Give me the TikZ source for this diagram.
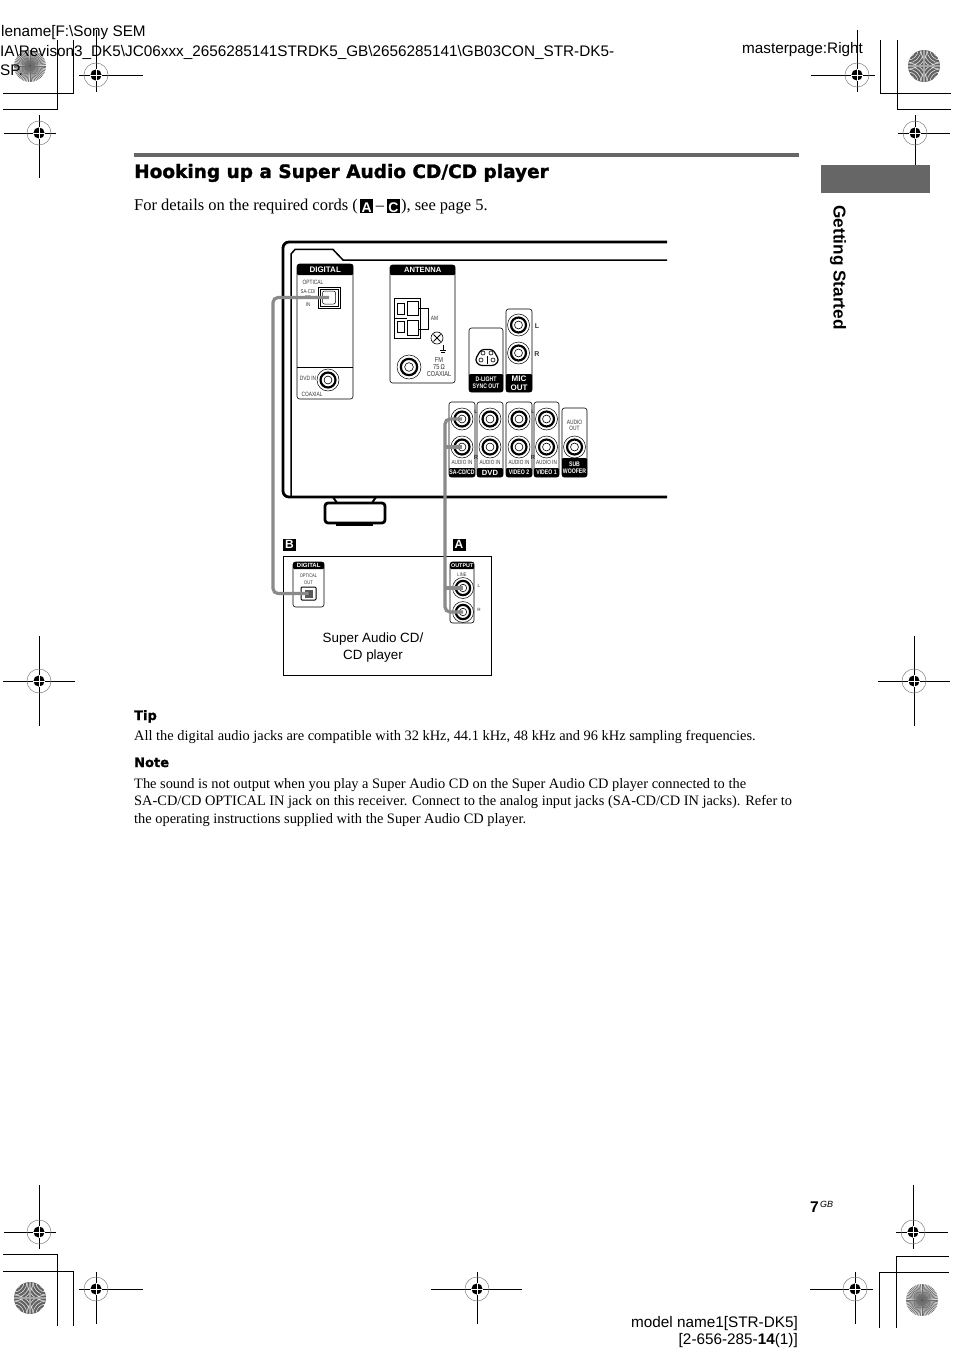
\documentclass[tikz,border=0pt]{standalone}
\usepackage{fontspec}
\setmainfont{Liberation Serif}
\newfontfamily\helvfont{Liberation Sans}
\newfontfamily\heavyfont[BoldFeatures={FakeBold=1.4}]{DejaVu Sans}
\newfontfamily\narrowfont[FakeStretch=0.78]{Liberation Sans}
\usetikzlibrary{positioning,arrows.meta,calc}
\definecolor{rulegray}{HTML}{666666}
\definecolor{cablegray}{HTML}{8A8A8A}
\newcommand{\fs}[1]{\fontsize{#1}{#1}\selectfont}
\newcommand{\cordtag}[1]{{\fboxsep=0pt\raisebox{-1.6pt}{\colorbox{black}{\makebox[13.5pt]{\rule{0pt}{13.5pt}\textcolor{white}{\helvfont\bfseries\fs{14}#1}}}}}}
\tikzset{
  cropline/.style={black, line width=0.9pt},
  regline/.style={black, line width=0.9pt},
  panelbox/.style={draw, rounded corners=2.5pt, line width=0.6pt, fill=white},
  barlabel/.style={fill=black, text=white, rounded corners=1.2pt, inner sep=0pt, align=center, font=\narrowfont\bfseries\fs{6.6}, text depth=0pt},
  smalltext/.style={inner sep=0pt, align=center, text=black!80, font=\narrowfont\fs{6.2}},
  pagetext/.style={anchor=base west, inner sep=0pt},
  headtext/.style={pagetext, font=\helvfont\fs{15.3}},
  bodytext/.style={pagetext, font=\fs{14.4}},
  kickertext/.style={pagetext, font=\heavyfont\bfseries\fs{13}},
  cable/.style={draw=cablegray, line width=3.2pt, rounded corners=5pt},
  jack/.style={circle, draw, line width=0.5pt, inner sep=0pt, fill=white, minimum size=#1,
    path picture={
      \draw[line width=2.2pt] (path picture bounding box.center) circle (0.34*#1);
      \draw[line width=0.6pt] (path picture bounding box.center) circle (0.18*#1);
    }},
  tagbox/.style={fill=black, text=white, inner sep=0pt, minimum width=13pt, minimum height=12pt, font=\helvfont\bfseries\fs{12}}
}
% registration mark: name, centre, arm lengths left/right/up/down
\newcommand{\regmark}[6]{
  \coordinate (#1) at (#2);
  \draw[regline] ($(#1)+(-#3,0)$) -- ($(#1)+(#4,0)$);
  \draw[regline] ($(#1)+(0,-#5)$) -- ($(#1)+(0,#6)$);
  \draw[gray, line width=0.5pt] (#1) circle (12pt);
  \fill[black] (#1) circle (5.6pt);
  \draw[white, line width=0.5pt] ($(#1)+(-5.6,0)$) -- ($(#1)+(5.6,0)$) ($(#1)+(0,-5.6)$) -- ($(#1)+(0,5.6)$);
}
% the two printer's discs
\newcommand{\spokedisc}[1]{
  \fill[gray!25] (#1) circle (16pt);
  \foreach \a in {0,6,...,354}
    \draw[gray!85!black, line width=0.6pt] (#1) -- ++(\a:16pt);
  \fill[black!70] (#1) circle (1pt);
}
\newcommand{\darkdisc}[1]{
  \begin{scope}
    \clip (#1) circle (16pt);
    \fill[black!62] (#1) circle (16pt);
    \foreach \qx/\qy in {-16/-16,16/-16,-16/16,16/16}
      \foreach \r in {7,10,13,16,19}
        \draw[gray!25, line width=0.6pt] ($(#1)+(\qx,\qy)$) circle (\r pt);
    \draw[gray!70, line width=2.5pt] ($(#1)+(-16,0)$) -- ($(#1)+(16,0)$) ($(#1)+(0,-16)$) -- ($(#1)+(0,16)$);
  \end{scope}
}
\begin{document}
\begin{tikzpicture}[x=1pt, y=-1pt, >=Latex]
  \path[fill=white, use as bounding box] (0,0) rectangle (954,1364);

  % printer's marks
  \spokedisc{30,66}
  \darkdisc{924,66}
  \darkdisc{30,1298}
  \spokedisc{922,1300}
  \draw[cropline] (57,40) -- (57,109) -- (3,109);
  \draw[cropline] (73,40) -- (73,93) -- (3,93);
  \draw[cropline] (880,40) -- (880,93) -- (951,93);
  \draw[cropline] (897,40) -- (897,109) -- (951,109);
  \draw[cropline] (57,1326) -- (57,1254) -- (3,1254);
  \draw[cropline] (73,1326) -- (73,1271) -- (3,1271);
  \draw[cropline] (879,1328) -- (879,1272) -- (949,1272);
  \draw[cropline] (896,1328) -- (896,1256) -- (949,1256);

  % header lines
  \node[headtext] (file1) at (1,37) {lename[F:\textbackslash Sony SEM};
  \node[headtext] (file2) at (0,57) {IA\textbackslash Revison3\_DK5\textbackslash JC06xxx\_2656285141STRDK5\_GB\textbackslash 2656285141\textbackslash GB03CON\_STR-DK5-};
  \node[headtext] (file3) at (0,76) {SP.};
  \node[headtext] (master) at (742,54) {masterpage:Right};

  \regmark{regA}{96,75}{17}{47}{45}{17}
  \regmark{regB}{39,133}{35}{17}{18}{45}
  \regmark{regC}{857,75}{46}{18}{45}{17}
  \regmark{regD}{915,133}{17}{35}{18}{45}
  \regmark{regE}{39,681}{36}{36}{45}{45}
  \regmark{regF}{914,681}{36}{36}{45}{45}
  \regmark{regG}{39,1232}{35}{17}{47}{17}
  \regmark{regH}{96,1289}{17}{47}{17}{35}
  \regmark{regI}{477,1289}{46}{45}{17}{35}
  \regmark{regJ}{855,1289}{45}{18}{17}{35}
  \regmark{regK}{913,1232}{17}{35}{47}{17}

  % page furniture
  \fill[rulegray] (134,153) rectangle (799,157);
  \fill[rulegray] (821,165) rectangle (930,193);
  \node[rotate=-90, inner sep=0pt, font=\helvfont\bfseries\fs{17.2}] (chapter) at (838,267.5) {Getting Started};
  \node[pagetext, font=\heavyfont\bfseries\fs{18.5}] (title) at (134,178) {Hooking up a Super Audio CD/CD player};
  \node[pagetext, font=\fs{16.5}] (intro) at (134,211) {For details on the required cords (\kern2pt\cordtag{A}\kern2.5pt--\kern2.5pt\cordtag{C}\kern1pt), see page 5.};

  % receiver outline
  \draw[line width=2.8pt, rounded corners=6pt] (667,242) -- (283,242) -- (283,497) -- (667,497);
  \draw[line width=1.5pt] (667,260) -- (343,260) -- (333,249.5) -- (295,249.5) -- (291,254) -- (291,497);
  \draw[line width=2.8pt, rounded corners=3pt] (325,503) rectangle (385,523);
  \draw[line width=2pt] (333,497) -- (337,503) (376,497) -- (372,503);
  \draw[line width=1.8pt] (336,525) -- (373,525);

  % digital panel
  \draw[panelbox] (297,264) rectangle (353,399);
  \draw[line width=0.6pt] (297,367) -- (353,367);
  \node[barlabel, anchor=north west, minimum width=56, minimum height=11, font=\helvfont\bfseries\fs{8}] (digitalbar) at (297,264) {DIGITAL};
  \node[smalltext] (opticallabel) at (313,282) {OPTICAL};
  \node[smalltext, font=\narrowfont\fs{5.6}] (sacdlabel) at (308,298) {SA-CD/\\[0.5pt]CD\\[1pt]IN};
  \node[draw, line width=0.7pt, minimum width=22, minimum height=21, inner sep=0pt] (opticalframe) at (329,297.5) {};
  \node[draw, line width=0.7pt, minimum width=18, minimum height=17, inner sep=0pt] (opticalin) at (329,297.5) {};
  \node[draw, line width=0.5pt, rounded corners=2pt, minimum width=13, minimum height=13, inner sep=0pt] (opticalcore) at (329,297.5) {};
  \node[smalltext] (dvdlabel) at (308,378) {DVD IN};
  \node[jack=22pt] (dvdjack) at (328,380) {};
  \node[smalltext] (coaxlabel) at (312,394) {COAXIAL};

  % antenna panel
  \draw[panelbox] (390,265) rectangle (455,383);
  \node[barlabel, anchor=north west, minimum width=65, minimum height=10, font=\helvfont\bfseries\fs{7.6}] (antennabar) at (390,265) {ANTENNA};
  \draw[line width=0.6pt] (394,298) rectangle (420,338);
  \draw[line width=0.6pt] (394,318) -- (407,318);
  \draw[line width=0.6pt] (397,303) rectangle (404,314) (397,321) rectangle (404,332);
  \draw[line width=0.9pt] (407,301) rectangle (418,315) (407,320) rectangle (418,335);
  \draw[line width=0.6pt] (418,308) -- (428.5,308) -- (428.5,329) -- (418,329);
  \node[smalltext] (amlabel) at (434.5,318) {AM};
  \node[draw, circle, line width=0.6pt, minimum size=12, inner sep=0pt] (screw) at (437,338) {};
  \draw[line width=1pt] (433.5,334.5) -- (440.5,341.5) (433.5,341.5) -- (440.5,334.5);
  \draw[line width=0.4pt] (443,345) -- (443,350) (440,350) -- (446,350) (441,352) -- (445,352);
  \node[jack=24pt] (fmjack) at (409,367) {};
  \node[smalltext, align=center, font=\narrowfont\fs{7.2}] (fmlabel) at (439,367) {FM\\[-0.5pt]75\,Ω\\[-0.5pt]COAXIAL};

  % d-light and mic panels
  \draw[panelbox] (469,328) rectangle (503,392);
  \draw[panelbox] (506,309) rectangle (532,392);
  \node[barlabel, minimum width=34, minimum height=18] (dlightbar) at (486,383) {D-LIGHT\\[0.6pt]SYNC OUT};
  \node[barlabel, minimum width=26, minimum height=18, font=\helvfont\bfseries\fs{8}] (micbar) at (519,383) {MIC\\[0.6pt]OUT};
  \draw[line width=1.2pt, rounded corners=3pt] (481,349.5) -- (493,349.5) -- (499,360) -- (495,365.5) -- (479,365.5) -- (475,360) -- cycle;
  \node[draw, circle, line width=0.6pt, minimum size=4, inner sep=0pt] (pinA) at (483,353) {};
  \node[draw, circle, line width=0.6pt, minimum size=4, inner sep=0pt] (pinB) at (491,353) {};
  \node[draw, circle, line width=0.6pt, minimum size=4, inner sep=0pt] (pinC) at (481,360) {};
  \node[draw, circle, line width=0.6pt, minimum size=4, inner sep=0pt] (pinD) at (493,360) {};
  \draw[line width=0.6pt] (487,356) -- (487,364);
  \node[jack=22pt] (micL) at (518.5,325) {};
  \node[jack=22pt] (micR) at (518.5,353) {};
  \node[smalltext, font=\helvfont\bfseries\fs{7}] (micLlabel) at (537,326) {L};
  \node[smalltext, font=\helvfont\bfseries\fs{7}] (micRlabel) at (537,354) {R};

  % audio in row
  \foreach \n/\xl/\xr in {sacd/449/475, dvd/477/503, videoB/506/532, videoA/534/559}{
    \draw[panelbox] (\xl,402) rectangle (\xr,477);
    \node[jack=22pt] (\n L) at ({(\xl+\xr)/2},419) {};
    \node[jack=22pt] (\n R) at ({(\xl+\xr)/2},447) {};
    \node[smalltext, font=\narrowfont\fs{6}] (\n audio) at ({(\xl+\xr)/2},462.5) {AUDIO IN};
  }
  \node[barlabel, minimum width=26, minimum height=9] (sacdbar) at (462,472.5) {SA-CD/CD};
  \node[barlabel, minimum width=26, minimum height=9, font=\helvfont\bfseries\fs{7.6}] (dvdbar) at (490,472.5) {DVD};
  \node[barlabel, minimum width=26, minimum height=9] (videoBbar) at (519,472.5) {VIDEO 2};
  \node[barlabel, minimum width=25, minimum height=9] (videoAbar) at (546.5,472.5) {VIDEO 1};
  \node[smalltext, font=\helvfont\bfseries\fs{5}] (gapL1) at (476,411.5) {L};
  \node[smalltext, font=\helvfont\bfseries\fs{5}] (gapL2) at (533,411.5) {L};
  \node[smalltext, font=\helvfont\bfseries\fs{6}] (gapR1) at (476,457) {R};
  \node[smalltext, font=\helvfont\bfseries\fs{6}] (gapR2) at (533,457) {R};

  % sub woofer
  \draw[panelbox] (562,408) rectangle (587,477);
  \node[smalltext] (subaudio) at (574.5,425.5) {AUDIO\\[0.5pt]OUT};
  \node[jack=22pt] (subjack) at (574.5,447) {};
  \node[barlabel, minimum width=25, minimum height=19] (subbar) at (574.5,467.5) {SUB\\[0.6pt]WOOFER};

  % the player
  \draw[line width=0.7pt] (283,556) rectangle (491.5,675);
  \node[tagbox] (tagB) at (289.5,544.5) {B};
  \node[tagbox] (tagA) at (459,544.5) {A};
  \draw[panelbox] (293,562) rectangle (324,607);
  \node[barlabel, anchor=north west, minimum width=31, minimum height=7, font=\helvfont\bfseries\fs{6}] (outdigitalbar) at (293,562) {DIGITAL};
  \node[smalltext, font=\narrowfont\fs{5.2}] (outoptical) at (308.5,579) {OPTICAL\\[1.5pt]OUT};
  \node[draw, line width=1pt, rounded corners=1pt, minimum width=15, minimum height=13, inner sep=0pt] (opticalout) at (308.5,593.5) {};
  \node[fill=black!65, minimum width=8, minimum height=8, inner sep=0pt] (opticalcoreout) at (308.5,593.5) {};
  \draw[panelbox] (450,562) rectangle (474,623);
  \node[barlabel, anchor=north west, minimum width=24, minimum height=7, font=\helvfont\bfseries\fs{5.4}] (outputbar) at (450,562) {OUTPUT};
  \node[smalltext, font=\narrowfont\fs{5.2}] (linelabel) at (462,574.5) {LINE};
  \node[jack=21pt] (playerL) at (463,588) {};
  \node[jack=21pt] (playerR) at (463,612) {};
  \node[smalltext, font=\helvfont\fs{4.6}] (playerLlabel) at (479,586) {L};
  \node[smalltext, font=\helvfont\fs{4.6}] (playerRlabel) at (479,610) {R};
  \node[inner sep=0pt, align=center, font=\helvfont\fs{13.4}] (playername) at (373,647.5) {Super Audio CD/\\[3pt]CD player};

  % cords
  \coordinate (busB) at (273,450);
  \coordinate (busA) at (445,500);
  \draw[cable] (opticalin.center) -| (busB) |- (opticalout.center);
  \draw[cable] (sacdL.center) -| (busA) |- (playerR.center);
  \draw[cable] (sacdR.center) -- (sacdR.center -| busA);
  \draw[cable] (playerL.center) -- (playerL.center -| busA);

  % notes
  \node[kickertext] (tiphead) at (134,720) {Tip};
  \node[bodytext] (tipline) at (134,740) {All the digital audio jacks are compatible with 32 kHz, 44.1 kHz, 48 kHz and 96 kHz sampling frequencies.};
  \node[kickertext] (notehead) at (134,767) {Note};
  \node[bodytext] (noteA) at (134,788) {The sound is not output when you play a Super Audio CD on the Super Audio CD player connected to the};
  \node[bodytext] (noteB) at (134,805) {SA-CD/CD OPTICAL IN jack on this receiver. Connect to the analog input jacks (SA-CD/CD IN jacks). Refer to};
  \node[bodytext] (noteC) at (134,823) {the operating instructions supplied with the Super Audio CD player.};

  % foot of page
  \node[pagetext, font=\helvfont\bfseries\fs{15.5}] (pagenum) at (810,1212) {7};
  \node[pagetext, font=\helvfont\itshape\fs{9}] (pagesup) at (820,1207) {GB};
  \node[anchor=base east, inner sep=0pt, font=\helvfont\fs{15.3}] (modelA) at (798,1327) {model name1[STR-DK5]};
  \node[anchor=base east, inner sep=0pt, font=\helvfont\fs{15.3}] (modelB) at (798,1344) {[2-656-285-\textbf{14}(1)]};
\end{tikzpicture}
\end{document}
